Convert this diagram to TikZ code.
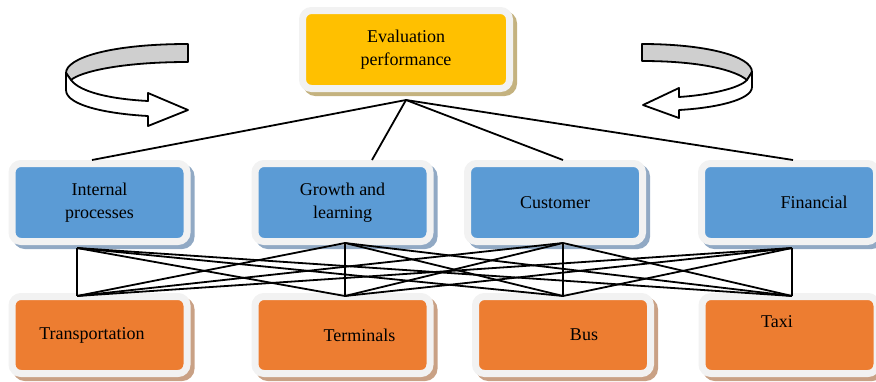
\documentclass[tikz,border=0pt]{standalone}
\usepackage{fontspec}
\setmainfont{Liberation Serif}
\usepackage{tikz}
\definecolor{evalyellow}{HTML}{FFC000}
\definecolor{evalshade}{HTML}{C4B27F}
\definecolor{perspblue}{HTML}{5B9BD5}
\definecolor{perspshade}{HTML}{91A9C4}
\definecolor{modeorange}{HTML}{ED7D31}
\definecolor{modeshade}{HTML}{C9A185}
\definecolor{framegray}{HTML}{F2F2F2}
\definecolor{ribbongray}{HTML}{CFCFCF}
\begin{document}
\begin{tikzpicture}
                    [x=1pt, y=-1pt,
                    box/.style={rectangle,
                        rounded corners=9pt,
                        line width=7pt, draw=framegray,
                        minimum width=175pt, minimum height=78pt,
                        inner sep=0pt, align=center,
                        font=\fontsize{18}{23}\selectfont},
                    evalbox/.style={box,
                        fill=evalyellow, minimum width=207pt,
                        preaction={draw=evalshade, fill=evalshade,
                            transform canvas={shift={(4pt,-4pt)}}}},
                    perspbox/.style={box,
                        fill=perspblue,
                        preaction={draw=perspshade, fill=perspshade,
                            transform canvas={shift={(4pt,-4pt)}}}},
                    modebox/.style={box,
                        fill=modeorange, minimum height=77pt,
                        preaction={draw=modeshade, fill=modeshade,
                            transform canvas={shift={(4pt,-4pt)}}}},
                    txt/.style={inner sep=0pt,
                        font=\fontsize{18}{23}\selectfont},
                    link/.style={line width=1.8pt},
                    ribbon/.style={line width=1.8pt, line join=round}]

                    \useasboundingbox (0,0) rectangle (876,381);

                    \node[evalbox] at (406,49.5)
                        (eval) {Evaluation\\performance};

                    \node[perspbox] at (99.5,202.5)
                        (intp) {Internal\\processes};
                    \node[perspbox] at (342.5,202.5)
                        (grow) {Growth and\\learning};
                    \node[perspbox] at (555,202.5)
                        (cust) {Customer};
                    \node[perspbox] at (789,202.5)
                        (fin) {};
                    \node[txt] at ([xshift=25pt]fin.center)
                        (fintext) {Financial};

                    \node[modebox] at (99.5,335)
                        (trans) {};
                    \node[txt] at ([xshift=-7.5pt]trans.center)
                        (transtext) {Transportation};
                    \node[modebox] at (342.5,335)
                        (term) {};
                    \node[txt] at ([xshift=17pt]term.center)
                        (termtext) {Terminals};
                    \node[modebox] at (563,335)
                        (bus) {};
                    \node[txt] at ([xshift=21pt]bus.center)
                        (bustext) {Bus};
                    \node[modebox] at (789.5,335)
                        (taxi) {};
                    \node[txt] at ([xshift=-12.5pt,yshift=13pt]taxi.center)
                        (taxitext) {Taxi};

                    \coordinate (apex) at ([yshift=-8pt]eval.south);
                    \draw[link] (apex) -- ([xshift=-7.5pt]intp.north);
                    \draw[link] (apex) -- ([xshift=29.5pt]grow.north);
                    \draw[link] (apex) -- ([xshift=8pt]cust.north);
                    \draw[link] (apex) -- ([xshift=4pt]fin.north);

                    \coordinate (u1) at ([xshift=-22.5pt,yshift=-3pt]intp.south);
                    \coordinate (u2) at ([xshift=2.5pt,yshift=2pt]grow.south);
                    \coordinate (u3) at ([xshift=8pt,yshift=2pt]cust.south);
                    \coordinate (u4) at ([xshift=3pt,yshift=-3pt]fin.south);
                    \coordinate (d1) at ([xshift=-22.5pt,yshift=-3pt]trans.north);
                    \coordinate (d2) at ([xshift=2.5pt,yshift=-3pt]term.north);
                    \coordinate (d3) at ([yshift=-3pt]bus.north);
                    \coordinate (d4) at ([xshift=2.5pt,yshift=-3pt]taxi.north);
                    \foreach \u in {u1,u2,u3,u4}
                        \foreach \d in {d1,d2,d3,d4}
                            \draw[link] (\u) -- (\d);

                    \filldraw[ribbon, fill=ribbongray] (188,44)
                        .. controls (110,44) and (66,58) .. (66,73)
                        -- (71,80)
                        .. controls (80,72) and (120,62) .. (188,62) -- cycle;
                    \filldraw[ribbon, fill=white] (66,73) -- (66,90)
                        .. controls (66,106) and (110,114) .. (148,116)
                        -- (148,126) -- (188,110) -- (148,93) -- (148,101)
                        .. controls (110,99) and (80,92) .. (71,80) -- cycle;

                    \filldraw[ribbon, fill=ribbongray] (642,44)
                        .. controls (705,44) and (752,56) .. (752,72)
                        -- (747,80)
                        .. controls (735,70) and (700,61) .. (642,61) -- cycle;
                    \filldraw[ribbon, fill=white] (752,72) -- (752,87)
                        .. controls (752,100) and (715,108) .. (679,110)
                        -- (679,118) -- (643,105) -- (679,88) -- (679,97)
                        .. controls (710,95) and (740,88) .. (747,80) -- cycle;
                \end{tikzpicture}
\end{document}
